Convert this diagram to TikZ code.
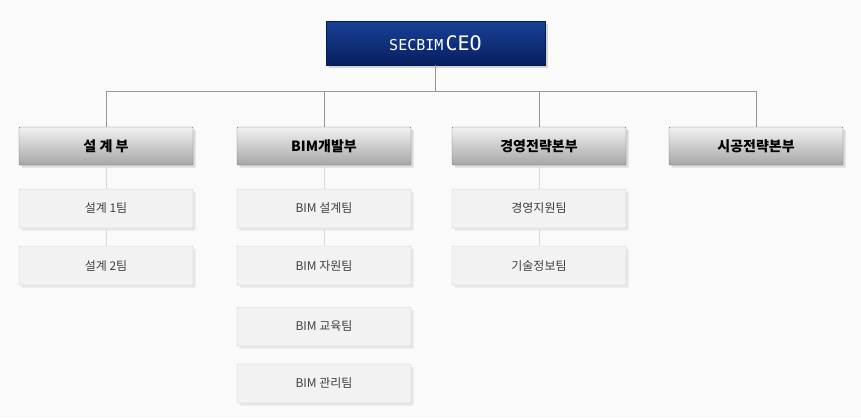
\documentclass[tikz,border=0pt]{standalone}
\usepackage{fontspec}
\setmainfont{Noto Sans CJK KR}
\newfontfamily\monofont{DejaVu Sans Mono}
\usetikzlibrary{positioning,shadows}
\definecolor{ceotop}{RGB}{24,66,150}
\definecolor{ceobot}{RGB}{8,30,95}
\definecolor{linegray}{RGB}{150,150,150}

\begin{document}
\begin{tikzpicture}[x=1pt,y=-1pt,
    ceo/.style={rectangle, draw=ceobot!80!black, top color=ceotop, bottom color=ceobot, minimum width=219pt, minimum height=44pt, text=white, drop shadow={opacity=0.3}},
    dept/.style={rectangle, draw=black!55, rounded corners=1pt, top color=white!95!black, bottom color=black!35, minimum width=174pt, minimum height=38pt, font=\bfseries\fontsize{14}{16}\selectfont, drop shadow={opacity=0.25}},
    team/.style={rectangle, draw=black!20, rounded corners=1pt, fill=black!5, minimum width=174pt, minimum height=39pt, font=\fontsize{12}{14}\selectfont, text=black!75, drop shadow={opacity=0.15}},
    link/.style={draw=linegray, line width=0.8pt},
    sublink/.style={draw=black!15, line width=0.8pt},
]
    \fill[white!98!black] (0,0) rectangle (861,418);
    \useasboundingbox (0,0) rectangle (861,418);

    % CEO
    \node[ceo] (ceo) at (435.5,43) {{\monofont\fontsize{15}{18}\selectfont SECBIM} {\monofont\fontsize{20}{22}\selectfont CEO}};

    % departments
    \node[dept] (d1) at (106,146) {설 계 부};
    \node[dept] (d2) at (324,146) {BIM개발부};
    \node[dept] (d3) at (539,146) {경영전략본부};
    \node[dept] (d4) at (756,146) {시공전략본부};

    % teams
    \node[team] (t11) at (106,208.5) {설계 1팀};
    \node[team] (t12) at (106,265.5) {설계 2팀};
    \node[team] (t21) at (324,208.5) {BIM 설계팀};
    \node[team] (t22) at (324,265.5) {BIM 자원팀};
    \node[team] (t23) at (324,326.5) {BIM 교육팀};
    \node[team] (t24) at (324,383.5) {BIM 관리팀};
    \node[team] (t31) at (539,208.5) {경영지원팀};
    \node[team] (t32) at (539,265.5) {기술정보팀};

    % tree lines
    \coordinate (bus) at (ceo.south |- 0,91);
    \draw[link] (ceo.south) -- (bus);
    \draw[link] (d1.north) -- (d1.north |- bus) -- (d4.north |- bus) -- (d4.north);
    \draw[link] (d2.north) -- (d2.north |- bus);
    \draw[link] (d3.north) -- (d3.north |- bus);
    \draw[sublink] (d1.south) -- (t11.north) (t11.south) -- (t12.north);
    \draw[sublink] (d2.south) -- (t21.north) (t21.south) -- (t22.north);
    \draw[sublink] (d3.south) -- (t31.north) (t31.south) -- (t32.north);
\end{tikzpicture}
\end{document}
